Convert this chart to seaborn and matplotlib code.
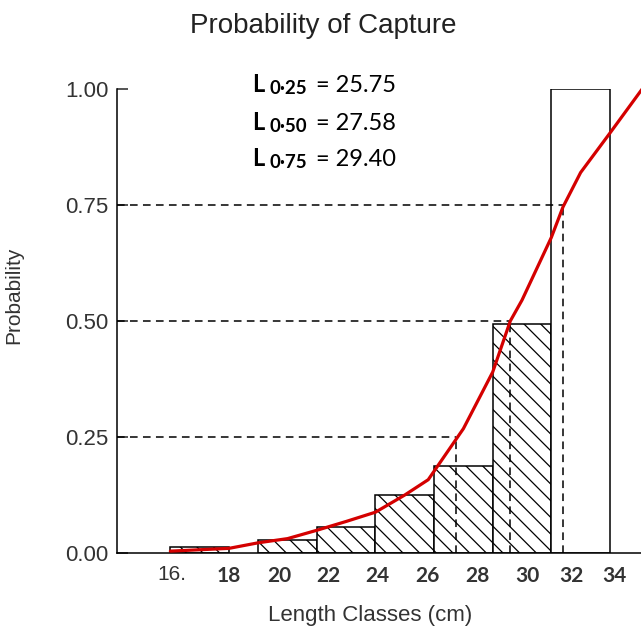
import matplotlib
matplotlib.use("Agg")
import matplotlib.pyplot as plt
import seaborn as sns
import pandas as pd

# length classes (cm): left edge of each bar and the observed probability
class_left = [16, 19, 21, 23, 25, 27, 29]
class_prob = [0.012, 0.027, 0.056, 0.125, 0.188, 0.494, 1.0]
class_width = 2

# fitted selection curve
curve_len = [16, 18, 19, 20, 21, 22, 23, 24, 24.8, 26, 27, 27.6, 28, 29, 29.4, 30, 31, 32.1]
curve_prob = [0.004, 0.01, 0.022, 0.031, 0.049, 0.068, 0.088, 0.125, 0.158, 0.268,
              0.39, 0.50, 0.545, 0.68, 0.746, 0.82, 0.905, 1.0]

# L25 / L50 / L75
l_names = ["0·25", "0·50", "0·75"]
l_probs = [0.25, 0.50, 0.75]
l_vals = [25.75, 27.58, 29.40]

# x tick labels (pasted on unevenly in the original)
tick_pos = [16.06, 18.0, 19.71, 21.38, 23.05, 24.76, 26.47, 28.17, 29.67, 31.16]
tick_txt = ["16.", "18", "20", "22", "24", "26", "28", "30", "32", "34"]

sns.set_style("white")
plt.rcParams["font.family"] = ["Liberation Sans", "DejaVu Sans"]
plt.rcParams["hatch.linewidth"] = 0.9

fig = plt.figure(figsize=(6.41, 6.30), dpi=100)
ax = fig.add_axes([117 / 641, 1 - 553 / 630, 524 / 641, 464 / 630])

for i, (x, p) in enumerate(zip(class_left, class_prob)):
    last = i == len(class_left) - 1
    ax.bar(x, p, width=class_width, align="edge", color="white",
           edgecolor="black", linewidth=1.1, hatch=None if last else "\\\\", zorder=2)

xmin, xmax = 14.18, 32.06
for p, v in zip(l_probs, l_vals):
    ax.hlines(p, xmin, v, colors="black", linestyles=(0, (5, 3.5)), linewidth=1.1, zorder=3)
    ax.vlines(v, 0, p, colors="black", linestyles=(0, (5, 3.5)), linewidth=1.1, zorder=3)

curve = pd.DataFrame({"len": curve_len, "prob": curve_prob})
sns.lineplot(data=curve, x="len", y="prob", color="#d40000", linewidth=2.3,
             ax=ax, zorder=4, clip_on=False)

ax.set_xlim(xmin, xmax)
ax.set_ylim(0, 1.0)
sns.despine(ax=ax)
for s in ["left", "bottom"]:
    ax.spines[s].set_color("black")
    ax.spines[s].set_linewidth(1.1)

ax.set_yticks([0, 0.25, 0.5, 0.75, 1.0])
ax.set_yticklabels(["0.00", "0.25", "0.50", "0.75", "1.00"], fontsize=16, color="#333333")
ax.tick_params(axis="y", direction="in", length=8, width=1.1, pad=6, left=True)

ax.set_xticks(tick_pos)
ax.set_xticklabels(tick_txt, fontsize=15, color="#333333")
ax.tick_params(axis="x", length=0, pad=9)
for lab in ax.get_xticklabels()[1:]:
    lab.set_fontfamily("Lato")
    lab.set_fontweight("bold")

ax.set_xlabel("Length Classes (cm)", fontsize=16, color="#333333")
ax.xaxis.set_label_coords(0.483, -0.112)
ax.set_ylabel("Probability", fontsize=15, color="#333333")
ax.yaxis.set_label_coords(-0.179, 0.556)

fig.text(323 / 641, 1 - 26 / 630, "Probability of Capture", fontsize=20,
         color="#222222", ha="center", va="center")

baselines = [92, 130, 166]
for name, v, yb in zip(l_names, l_vals, baselines):
    fig.text(252 / 641, 1 - yb / 630, "L", fontsize=17, fontweight="bold",
             family="Lato", va="baseline", color="black")
    fig.text(269 / 641, 1 - (yb + 2) / 630, name, fontsize=13.5, fontweight="bold",
             family="Lato", va="baseline", color="black")
    fig.text(316 / 641, 1 - yb / 630, f"= {v:.2f}", fontsize=17,
             family="Lato", va="baseline", color="black")

fig.savefig("out.png", dpi=100)
